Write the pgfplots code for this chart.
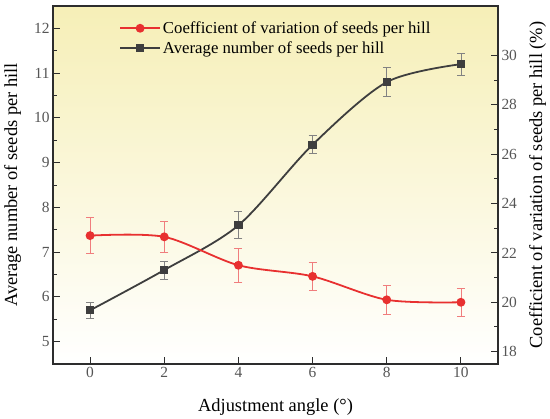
\documentclass[border=0pt]{standalone}
\usepackage{fontspec}
\setmainfont{Liberation Serif}
\usepackage{pgfplots}
\pgfplotsset{compat=1.18}
\definecolor{cvred}{RGB}{232,48,48}
\definecolor{cvredlt}{RGB}{240,125,125}
\definecolor{avgk}{RGB}{62,62,62}
\definecolor{avgklt}{RGB}{130,130,130}
\definecolor{bgtop}{RGB}{246,239,183}
\definecolor{axc}{RGB}{45,45,45}
\definecolor{tickc}{RGB}{85,85,85}
\begin{document}
\begin{tikzpicture}
\pgfplotsset{
 common/.style={
  width=445bp, height=358bp, scale only axis,
  xmin=-1, xmax=11,
  tick align=inside,
  major tick length=7bp, minor tick length=4bp,
  every tick/.style={axc, line width=1pt},
  axis line style={axc, line width=1.2pt},
  tick label style={font=\fontsize{15.5}{18}\selectfont, text=tickc},
  label style={font=\fontsize{18.5}{22}\selectfont},
  /pgf/number format/assume math mode=true,
  legend image code/.code={\draw[mark repeat=2,mark phase=2,##1] plot coordinates {(0bp,0bp) (20bp,0bp) (40bp,0bp)};},
 }
}
\begin{axis}[common, name=main,
  ymin=4.5, ymax=12.5, ytick={5,...,12}, minor y tick num=1,
  xtick={0,2,...,10},
  xtick pos=bottom, ytick pos=left,
  axis background/.style={top color=bgtop, bottom color=white},
  xlabel={Adjustment angle (°)},
  ylabel={Average number of seeds per hill},
  xlabel style={at={(axis description cs:0.5,-0.134)}, anchor=base},
  ylabel style={at={(axis description cs:-0.091,0.5)}, anchor=center},
]
\addplot[avgk, line width=1.8pt, smooth, mark=square*, mark size=3.3bp,
  mark options={solid, fill=avgk},
  error bars/.cd, y dir=both, y explicit,
  error bar style={avgklt, line width=0.8pt},
  error mark options={rotate=90, mark size=4bp, avgklt, line width=0.8pt}]
  coordinates {
  (0,5.7) +- (0,0.17)
  (2,6.6) +- (0,0.2)
  (4,7.6) +- (0,0.3)
  (6,9.4) +- (0,0.2)
  (8,10.8) +- (0,0.32)
  (10,11.2) +- (0,0.25)
  };
\end{axis}
\begin{axis}[common,
  axis x line=none, axis y line*=right,
  ymin=17.5, ymax=32, ytick={18,20,...,30}, minor y tick num=1,
  ylabel={Coefficient of variation of seeds per hill (\%)},
  ylabel style={at={(axis description cs:1.089,0.5)}, anchor=center},
  legend style={draw=none, fill=none, at={(axis description cs:0.1416,0.968)}, anchor=north west,
    font=\fontsize{16.8}{19}\selectfont, cells={anchor=west}, row sep=2.5bp},
]
\addplot[cvred, line width=1.8pt, smooth, mark=*, mark size=3.5bp,
  mark options={solid, fill=cvred},
  error bars/.cd, y dir=both, y explicit,
  error bar style={cvredlt, line width=0.8pt},
  error mark options={rotate=90, mark size=4bp, cvredlt, line width=0.8pt}]
  coordinates {
  (0,22.7) +- (0,0.72)
  (2,22.65) +- (0,0.62)
  (4,21.5) +- (0,0.7)
  (6,21.05) +- (0,0.55)
  (8,20.1) +- (0,0.6)
  (10,20.0) +- (0,0.57)
  };
\addlegendentry{Coefficient of variation of seeds per hill}
\addlegendimage{avgk, line width=1.8pt, mark=square*, mark size=3.3bp, mark options={solid, fill=avgk}}
\addlegendentry{Average number of seeds per hill}
\end{axis}
\pgfresetboundingbox
\useasboundingbox ([shift={(-53bp,-55bp)}]main.south west) rectangle ([shift={(52bp,6bp)}]main.north east);
\end{tikzpicture}
\end{document}
